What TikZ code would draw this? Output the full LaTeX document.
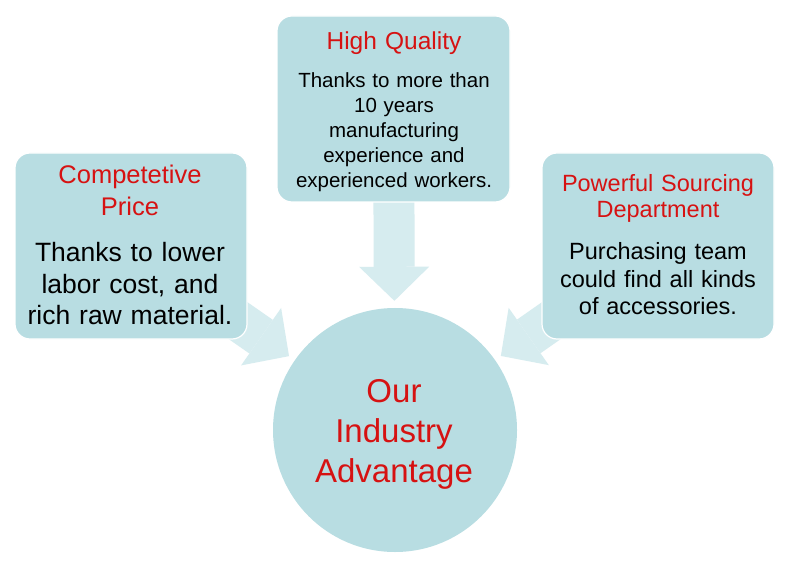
\documentclass[tikz,border=0pt]{standalone}
\usepackage{fontspec}
\setmainfont{Liberation Sans}
\usetikzlibrary{arrows.meta, positioning, backgrounds}
\definecolor{advteal}{RGB}{184,221,226}
\definecolor{advpale}{RGB}{214,236,239}
\definecolor{advred}{RGB}{214,18,18}
\tikzset{
  advbox/.style={
    rectangle, rounded corners=15pt, minimum width=232pt, minimum height=186pt,
    fill=advteal, draw=white, line width=1.2pt
  },
  advtitle/.style={
    anchor=base, text width=226pt, align=center, inner sep=0pt, text=advred
  },
  advbody/.style={
    anchor=base, text width=226pt, align=center, inner sep=0pt, text=black
  },
  hub/.style={
    circle, minimum size=244pt, inner sep=0pt, fill=advteal
  },
  flowarrow/.style={
    line width=41pt, color=advpale, shorten >=7pt,
    -{Triangle[length=34pt, width=70pt, line width=0pt]}
  }
}

\begin{document}
\begin{tikzpicture}[x=1pt, y=1pt]
  \useasboundingbox (0,0) rectangle (797,568);

  % Boxes
  \node[advbox] (price) at (131,322) {};
  \node[advbox, minimum width=233pt] (quality) at (393.5,459) {};
  \node[advbox] (sourcing) at (658,322) {};
  \node[hub] (hub) at (395,138) {};

  % Arrows behind the boxes
  \begin{scope}[on background layer]
    \fill[white] (0,0) rectangle (797,568);
    \foreach \src in {price, quality, sourcing} {
      \draw[flowarrow] (\src.center) -- (hub);
    }
  \end{scope}

  % Texts
  \node[advtitle, font={\fontsize{25.5pt}{31.5pt}\selectfont}] (pricetitle)
    at (130,384) {Competetive\\Price};
  \node[advbody, font={\fontsize{26.5pt}{31.5pt}\selectfont}] (pricetext)
    at (130,306) {Thanks to lower\\labor cost, and\\rich raw material.};

  \node[advtitle, font={\fontsize{24.5pt}{30pt}\selectfont}] (qualitytitle)
    at (394,518) {High Quality};
  \node[advbody, font={\fontsize{20.5pt}{24.8pt}\selectfont}] (qualitytext)
    at (394,480) {Thanks to more than\\10 years\\manufacturing\\experience and\\experienced workers.};

  \node[advtitle, font={\fontsize{23.5pt}{26pt}\selectfont}] (sourcingtitle)
    at (658,376) {Powerful Sourcing\\Department};
  \node[advbody, font={\fontsize{23.5pt}{27.5pt}\selectfont}] (sourcingtext)
    at (658,308) {Purchasing team\\could find all kinds\\of accessories.};

  \node[advtitle, font={\fontsize{33pt}{40pt}\selectfont}] (hubtext)
    at (394,166) {Our\\Industry\\Advantage};
\end{tikzpicture}
\end{document}
